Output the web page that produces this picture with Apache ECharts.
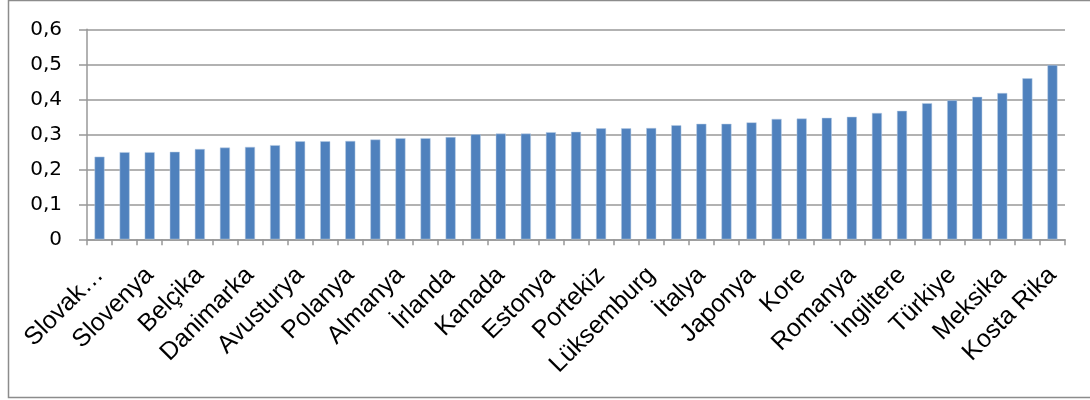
<!DOCTYPE html>
<html>
<head>
<meta charset="utf-8">
<script src="https://cdn.jsdelivr.net/npm/echarts@6/dist/echarts.min.js"></script>
<style>
  html, body { margin: 0; padding: 0; background: #fff; }
  #chart { width: 1090px; height: 400px; }
</style>
</head>
<body>
<div id="chart"></div>
<script>
// Categories (every other label is visible in the reference)
const categories = [
  'Slovakya', 'Çekya', 'Slovenya', 'İzlanda', 'Belçika', 'Finlandiya', 'Danimarka', 'Norveç',
  'Avusturya', 'İsveç', 'Polanya', 'Hollanda', 'Almanya', 'Macaristan', 'İrlanda', 'Fransa',
  'Kanada', 'İsviçre', 'Estonya', 'Avustralya', 'Portekiz', 'İspanya', 'Lüksemburg', 'Yunanistan',
  'İtalya', 'Letonya', 'Japonya', 'Yeni Zelanda', 'Kore', 'Litvanya', 'Romanya', 'İsrail',
  'İngiltere', 'Bulgaristan', 'Türkiye', 'ABD', 'Meksika', 'Şili', 'Kosta Rika'
];

// Values
const values = [
  0.236, 0.249, 0.249, 0.250, 0.258, 0.262, 0.264, 0.269,
  0.280, 0.280, 0.281, 0.285, 0.289, 0.289, 0.292, 0.300,
  0.302, 0.302, 0.306, 0.307, 0.317, 0.317, 0.318, 0.326,
  0.330, 0.330, 0.334, 0.344, 0.345, 0.347, 0.350, 0.361,
  0.367, 0.389, 0.397, 0.407, 0.418, 0.460, 0.498
];

// Y axis tick range
const yMin = 0;
const yMax = 0.6;
const yStep = 0.1;

const gray = '#989898';

const chart = echarts.init(document.getElementById('chart'), null, { renderer: 'canvas' });
chart.setOption({
  animation: false,
  backgroundColor: '#ffffff',
  graphic: [{
    type: 'rect',
    shape: { x: 8.5, y: 0.5, width: 1090, height: 397 },
    style: { fill: 'none', stroke: '#8c8c8c', lineWidth: 1.5 },
    silent: true
  }],
  grid: { left: 87, right: 25, top: 29.3, bottom: 160.7, containLabel: false },
  xAxis: {
    type: 'category',
    data: categories,
    axisLine: { show: true, lineStyle: { color: gray, width: 1.5 } },
    axisTick: { show: true, interval: 0, length: 6, lineStyle: { color: gray, width: 1.5 } },
    axisLabel: {
      interval: 1,
      rotate: 45,
      margin: 32,
      fontFamily: '"Liberation Sans", Arial, sans-serif',
      fontSize: 25,
      color: '#000',
      hideOverlap: false,
      formatter: function (v) { return v === 'Slovakya' ? 'Slovak…' : v; }
    },
    splitLine: { show: false }
  },
  yAxis: {
    type: 'value',
    min: yMin,
    max: yMax,
    interval: yStep,
    axisLine: { show: true, lineStyle: { color: gray, width: 1.5 } },
    axisTick: { show: true, length: 8, lineStyle: { color: gray, width: 1.5 } },
    axisLabel: {
      margin: 25,
      fontFamily: '"DejaVu Sans", sans-serif',
      fontSize: 20,
      color: '#000',
      formatter: function (v) { return (Math.round(v * 10) / 10).toString().replace('.', ','); }
    },
    splitLine: { show: true, lineStyle: { color: gray, width: 1.5 } }
  },
  series: [{
    type: 'bar',
    data: values,
    barWidth: 10,
    itemStyle: { color: '#4f81bd', borderColor: '#b9cde5', borderWidth: 0.5 }
  }]
});
</script>
</body>
</html>
